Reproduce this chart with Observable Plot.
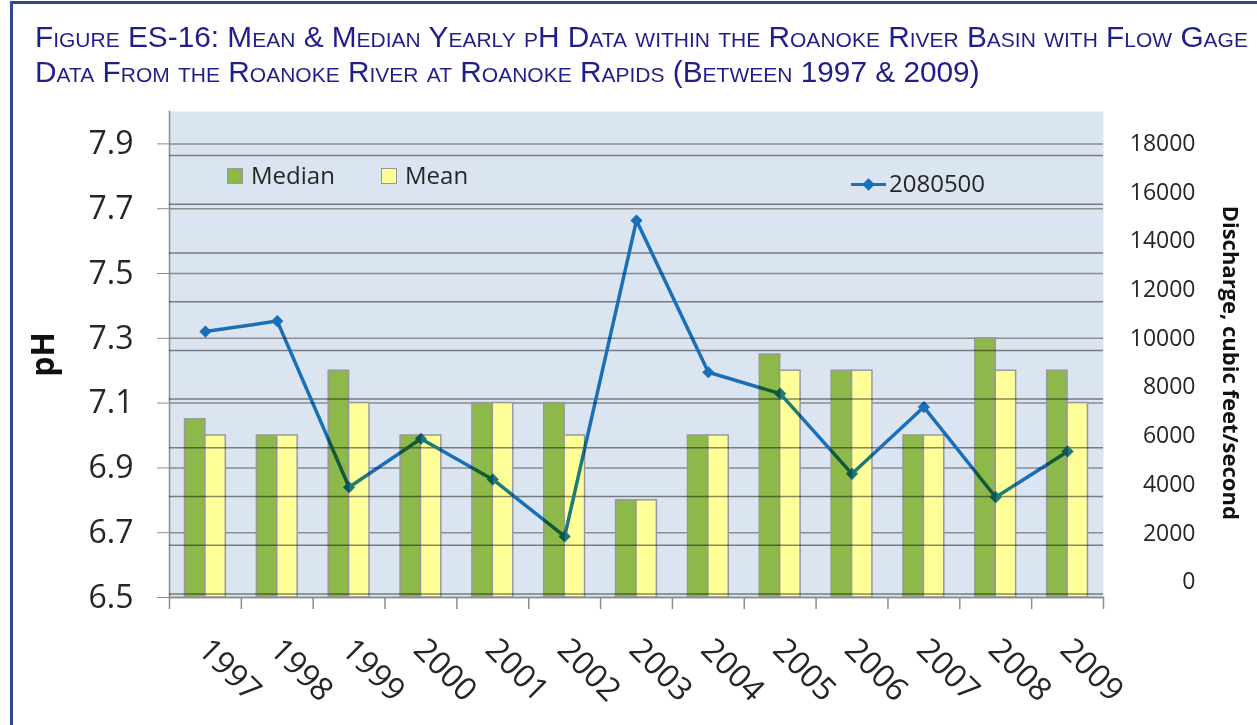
<!DOCTYPE html>
<html><head><meta charset="utf-8">
<script src="https://cdn.jsdelivr.net/npm/d3@7"></script>
<script src="https://cdn.jsdelivr.net/npm/@observablehq/plot@0.6"></script>
<style>
body{margin:0;background:#fff;width:1257px;height:725px;overflow:hidden;position:relative;font-family:"Open Sans",sans-serif;}
#frame{position:absolute;left:10px;top:1px;width:1400px;height:900px;border-left:3px solid #2E4B8E;border-top:3px solid #2E4B8E;}
#title{position:absolute;left:35px;top:19px;font-family:"Liberation Sans",Arial,sans-serif;font-variant:small-caps;font-size:29.8px;line-height:35px;color:#1F1F8C;white-space:nowrap;}
#chart{position:absolute;left:0;top:100px;width:1257px;height:625px;}
#chart svg{position:absolute;left:0;top:0;}
.sw{position:absolute;width:14px;height:14px;border:1px solid #999;}
.lt{position:absolute;font-size:24px;line-height:24px;color:#262626;white-space:nowrap;}
.ln{position:absolute;width:35px;height:3px;background:#1a72b8;}
.dm{position:absolute;width:9px;height:9px;background:#1a72b8;transform:rotate(45deg);}
#legend{position:absolute;left:0;top:0;}
</style></head>
<body>
<div id="frame"></div>
<div id="title"></div>
<div id="chart"></div>
<div id="legend"></div>
<script>
const titleLines = [
  "Figure ES-16: Mean & Median Yearly pH Data within the Roanoke River Basin with Flow Gage",
  "Data From the Roanoke River at Roanoke Rapids (Between 1997 & 2009)"
];
const years = [1997,1998,1999,2000,2001,2002,2003,2004,2005,2006,2007,2008,2009];
const median = [7.05,7.0,7.2,7.0,7.1,7.1,6.8,7.0,7.25,7.2,7.0,7.3,7.2];
const mean = [7.0,7.0,7.1,7.0,7.1,7.0,6.8,7.0,7.2,7.2,7.0,7.2,7.1];
const discharge = [10280,10710,3890,5880,4210,1870,14840,8610,7730,4440,7180,3480,5360];
const phTicks = [6.5,6.7,6.9,7.1,7.3,7.5,7.7,7.9];
const phDomain = [6.5, 8.0];
const dischargeTicks = [0,2000,4000,6000,8000,10000,12000,14000,16000,18000];
const dischargeDomain = [0, 18000];
const seriesNames = ["Median","Mean"];
const lineName = "2080500";
const yLeftLabel = "pH";
const yRightLabel = "Discharge, cubic feet/second";

document.getElementById("title").innerHTML = titleLines.join("<br>");

const W = 1257, H = 625, mL = 169, mR = 154;
const bw = (W - mL - mR) / years.length;
const barW = 20.4;
const rows = years.map((y,i)=>({year:y, median:median[i], mean:mean[i]}));
const drows = years.map((y,i)=>({year:y, q:discharge[i]}));
const gray = "#8d8d8d";

const p1 = Plot.plot({
  width:W, height:H, marginLeft:mL, marginRight:mR, marginTop:11, marginBottom:128,
  style:{fontFamily:"Open Sans", background:"transparent", overflow:"visible"},
  x:{type:"band", domain:years, padding:0, round:false},
  y:{domain:phDomain},
  marks:[
    Plot.frame({fill:"#DBE5F1", stroke:null}),
    Plot.gridY(phTicks, {stroke:gray, strokeOpacity:1, strokeWidth:1.5}),
    Plot.barY(rows, {x:"year", y1:phDomain[0], y2:"median", fill:"#8DB84A", stroke:"#999", strokeWidth:1.5, insetLeft:bw/2-barW, insetRight:bw/2}),
    Plot.barY(rows, {x:"year", y1:phDomain[0], y2:"mean", fill:"#FFFF99", stroke:"#999", strokeWidth:1.5, insetLeft:bw/2, insetRight:bw/2-barW}),
    Plot.axisY(phTicks, {anchor:"left", tickSize:12, tickPadding:24, fontSize:32, tickFormat:d3.format(".1f"), stroke:gray, fill:"#262626", label:null}),
    Plot.frame({anchor:"left", stroke:gray, strokeWidth:1.5}),
    Plot.frame({anchor:"bottom", stroke:gray, strokeWidth:1.5}),
    Plot.axisX(years, {anchor:"bottom", tickSize:12, tickFormat:()=>"", dx:-bw/2, stroke:gray, strokeWidth:1.5, label:null}),
    Plot.axisX([years[years.length-1]], {anchor:"bottom", tickSize:12, tickFormat:()=>"", dx:bw/2, stroke:gray, strokeWidth:1.5, label:null}),
    Plot.text(years, {x:d=>d, text:d=>String(d), frameAnchor:"bottom", dy:54, dx:-9, rotate:45, textAnchor:"start", lineAnchor:"bottom", fontSize:32, fill:"#262626"}),
    Plot.text([yLeftLabel], {frameAnchor:"left", dx:-126, rotate:-90, textAnchor:"middle", lineAnchor:"middle", fontSize:32, fontWeight:"bold", fill:"#111"})
  ]
});

const p2 = Plot.plot({
  width:W, height:H, marginLeft:mL, marginRight:mR, marginTop:43, marginBottom:143.5,
  style:{fontFamily:"Open Sans", background:"transparent", overflow:"visible", mixBlendMode:"multiply"},
  x:{type:"band", domain:years, padding:0, round:false, axis:null},
  y:{domain:dischargeDomain},
  marks:[
    Plot.gridY(dischargeTicks, {dy:12, stroke:"#8a8a8a", strokeOpacity:1, strokeWidth:1.5}),
    Plot.axisY(dischargeTicks, {anchor:"right", tickSize:0, tickPadding:92, textAnchor:"end", fontSize:23, fill:"#262626", tickFormat:d=>String(d), label:null}),
    Plot.text([yRightLabel], {frameAnchor:"right", dx:127, rotate:90, textAnchor:"middle", lineAnchor:"middle", fontSize:22, fontWeight:"bold", fill:"#111"}),
    Plot.line(drows, {x:"year", y:"q", stroke:"#1E7CC4", strokeWidth:3.5}),
    Plot.dot(drows, {x:"year", y:"q", symbol:"diamond2", r:5.5, fill:"#1E7CC4", stroke:null})
  ]
});

const chart = document.getElementById("chart");
chart.appendChild(p1);
chart.appendChild(p2);

const lg = document.getElementById("legend");
lg.innerHTML =
  `<div class="sw" style="left:227px;top:168px;background:#8DB84A"></div><div class="lt" style="left:251px;top:163px">${seriesNames[0]}</div>` +
  `<div class="sw" style="left:381px;top:168px;background:#FFFF99"></div><div class="lt" style="left:405px;top:163px">${seriesNames[1]}</div>` +
  `<div class="ln" style="left:851px;top:182.5px"></div><div class="dm" style="left:864px;top:179.5px"></div><div class="lt" style="left:889px;top:171px">${lineName}</div>`;
</script>
</body></html>
